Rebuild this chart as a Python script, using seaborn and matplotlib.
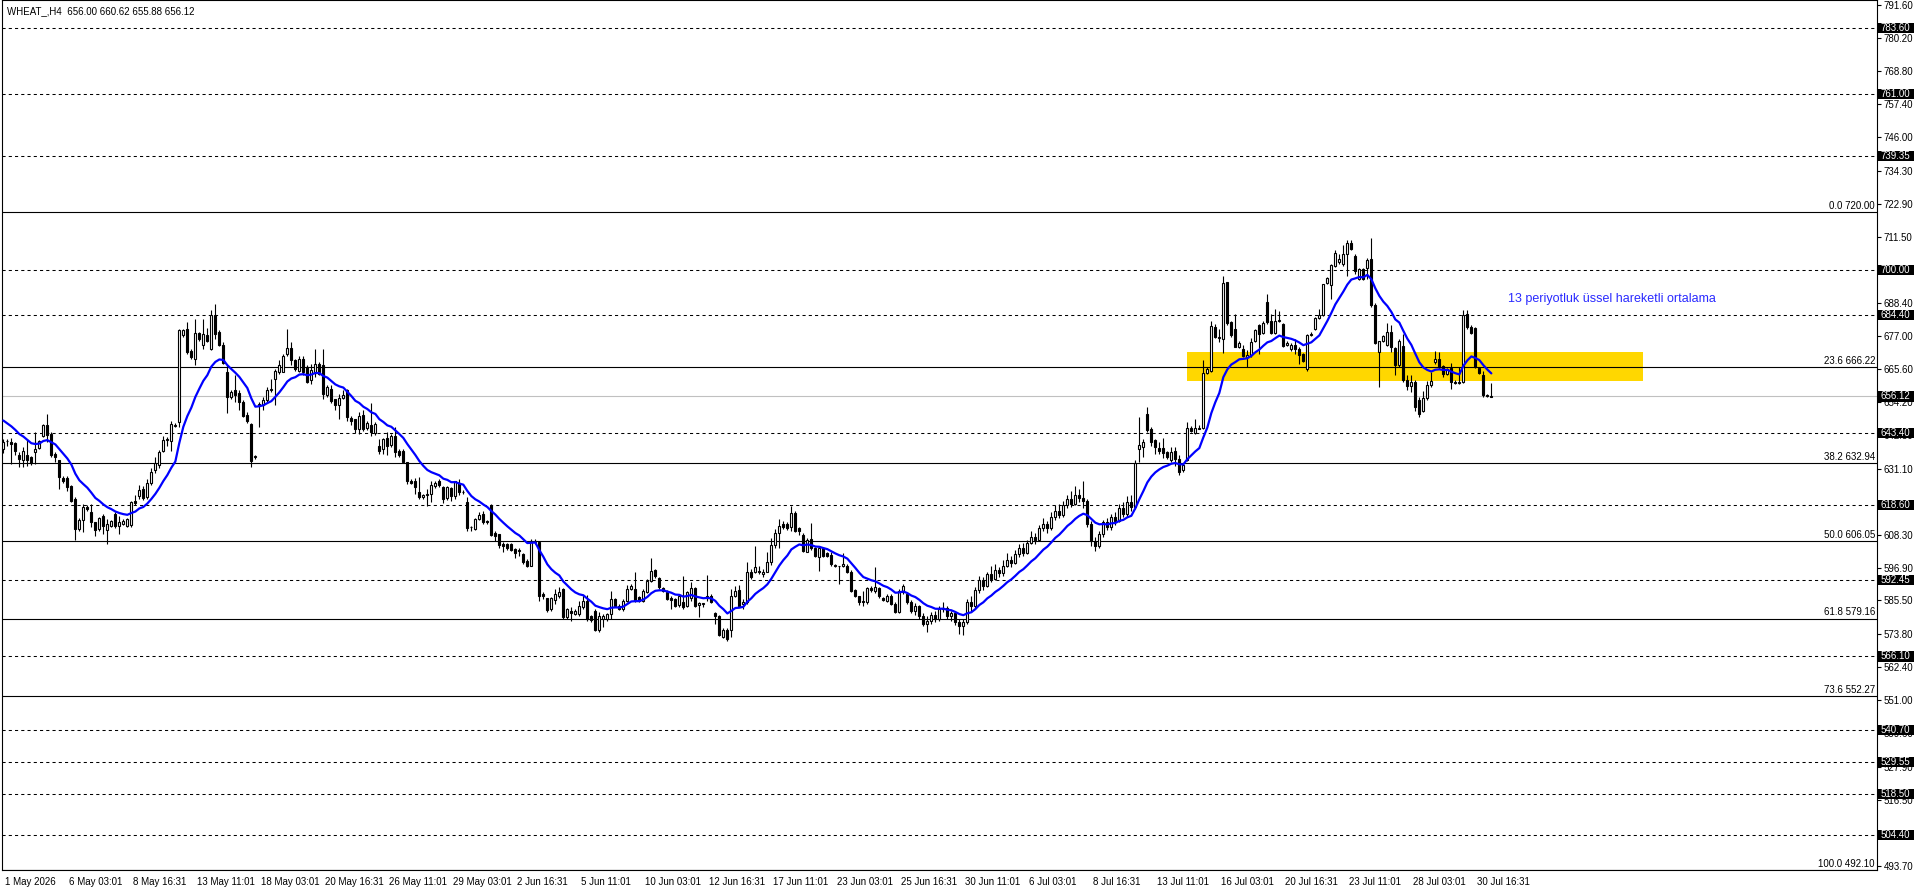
import numpy as np
import pandas as pd
import matplotlib
matplotlib.use("Agg")
from matplotlib import pyplot as plt
from matplotlib.patches import Rectangle
import matplotlib.transforms as mtransforms
import seaborn as sns

# 数据: WHEAT_ H4 K线
header_text = "WHEAT_,H4  656.00 660.62 655.88 656.12"

bar_open = [
    638.0, 640.6, 640.3, 640.1, 635.7, 634.0, 635.7, 635.1, 636.8, 638.2,
    642.6, 646.1, 643.2, 636.3, 634.0, 627.9, 627.8, 625.0, 620.7, 610.2,
    613.5, 618.0, 616.0, 612.6, 610.2, 614.6, 610.0, 611.4, 615.4, 611.4,
    612.0, 611.4, 611.6, 620.1, 621.8, 624.1, 621.2, 626.2, 630.5, 632.5,
    637.4, 641.0, 640.7, 645.9, 647.2, 677.3, 679.6, 671.7, 669.0, 678.1,
    673.8, 677.5, 672.4, 684.5, 678.4, 674.0, 664.6, 655.9, 658.2, 657.4,
    654.2, 649.8, 646.7, 635.0, 653.3, 653.0, 655.0, 658.2, 662.3, 664.6,
    664.6, 670.9, 672.9, 668.6, 665.1, 669.2, 666.3, 661.7, 664.4, 667.5,
    667.1, 656.7, 658.8, 655.1, 653.0, 655.6, 658.3, 648.6, 648.2, 644.9,
    649.6, 645.2, 646.1, 643.5, 639.1, 637.8, 641.7, 639.4, 642.6, 637.4,
    637.4, 633.6, 627.0, 627.0, 623.0, 621.2, 622.0, 622.4, 625.0, 626.7,
    624.7, 620.9, 624.4, 621.6, 626.2, 623.0, 619.7, 610.8, 610.3, 613.7,
    615.4, 613.1, 618.6, 608.9, 608.5, 605.1, 605.1, 605.1, 603.3, 602.7,
    601.6, 599.3, 597.5, 605.6, 605.9, 587.7, 586.2, 582.5, 585.8, 587.1,
    589.4, 579.6, 581.9, 580.8, 580.8, 583.1, 585.4, 580.0, 581.9, 575.4,
    579.0, 579.1, 580.8, 586.0, 583.7, 582.5, 585.4, 589.5, 589.5, 586.6,
    585.4, 588.3, 592.3, 596.0, 593.2, 589.7, 588.5, 586.2, 586.0, 583.9,
    585.1, 583.7, 586.2, 589.7, 583.9, 584.3, 586.2, 587.1, 581.1, 580.2,
    573.0, 575.4, 575.4, 587.1, 589.1, 584.3, 584.8, 595.5, 595.5, 595.8,
    594.7, 595.5, 598.7, 604.7, 608.9, 611.9, 612.0, 610.8, 615.8, 610.5,
    608.2, 602.4, 606.8, 603.6, 600.4, 603.6, 601.9, 601.2, 597.8, 597.3,
    597.3, 597.5, 595.5, 589.2, 587.1, 585.4, 584.8, 589.7, 588.9, 589.7,
    586.2, 585.4, 587.1, 584.3, 581.6, 588.3, 587.7, 584.8, 582.0, 583.5,
    580.0, 577.5, 578.5, 580.5, 579.0, 582.5, 583.0, 580.0, 581.0, 578.0,
    576.5, 578.0, 585.0, 583.5, 589.0, 592.5, 590.5, 594.5, 593.0, 596.0,
    595.0, 597.5, 599.5, 598.5, 601.5, 603.5, 602.0, 605.5, 607.5, 606.5,
    610.5, 612.0, 610.5, 614.5, 616.5, 615.0, 618.5, 620.5, 619.0, 622.0,
    621.0, 620.0, 612.0, 606.0, 604.5, 608.5, 612.5, 611.0, 614.5, 613.0,
    617.5, 615.5, 619.5, 618.0, 638.0, 638.6, 650.1, 644.7, 640.9, 638.2,
    638.2, 636.8, 634.3, 637.1, 634.5, 630.5, 634.3, 645.1, 643.5, 645.0,
    645.1, 664.3, 664.8, 680.2, 676.4, 675.9, 695.8, 681.9, 679.4, 673.2,
    672.7, 669.8, 670.4, 675.2, 681.0, 678.2, 688.8, 682.1, 678.2, 682.4,
    681.3, 674.1, 672.4, 674.1, 672.7, 670.9, 665.5, 677.3, 679.6, 683.3,
    684.4, 695.5, 694.6, 701.3, 702.7, 702.1, 705.6, 709.4, 704.8, 696.9,
    700.2, 700.6, 703.6, 687.9, 671.5, 675.5, 673.8, 678.4, 672.9, 666.9,
    673.6, 661.7, 659.7, 661.1, 655.0, 651.0, 655.5, 660.0, 668.0, 669.2,
    666.6, 664.0, 665.9, 661.0, 660.9, 661.1, 684.8, 680.2, 679.8, 666.0,
    663.6, 656.5, 656.00,
]

bar_high = [
    641.5, 641.5, 641.7, 640.5, 636.8, 638.6, 641.5, 635.5, 643.8, 641.2,
    646.7, 650.1, 643.8, 636.8, 634.0, 628.5, 628.7, 625.5, 621.2, 614.0,
    618.9, 618.5, 618.9, 612.6, 614.5, 615.5, 613.7, 613.5, 616.0, 614.9,
    613.6, 614.2, 620.0, 622.0, 625.5, 625.0, 627.6, 631.5, 635.1, 637.5,
    642.6, 642.0, 647.8, 647.0, 679.6, 679.6, 681.9, 672.7, 683.1, 678.6,
    683.1, 679.8, 686.2, 688.0, 679.0, 675.0, 666.9, 658.2, 663.4, 658.2,
    655.0, 650.9, 647.0, 636.0, 654.2, 655.9, 659.4, 662.3, 665.7, 668.6,
    670.9, 679.4, 675.0, 669.0, 670.0, 670.0, 667.0, 667.5, 672.4, 668.1,
    672.4, 660.0, 660.0, 655.4, 657.1, 658.2, 658.8, 649.5, 648.4, 650.9,
    651.3, 647.6, 653.9, 647.2, 641.5, 641.7, 643.8, 643.2, 645.5, 637.8,
    638.0, 633.6, 627.5, 627.8, 628.2, 622.5, 624.1, 627.0, 626.8, 627.6,
    625.0, 625.2, 624.7, 627.0, 627.6, 623.8, 621.2, 611.4, 614.2, 616.0,
    616.3, 613.5, 618.9, 609.4, 608.5, 605.6, 605.5, 605.5, 603.5, 603.5,
    602.0, 599.7, 606.8, 606.8, 606.2, 588.3, 586.5, 586.7, 589.4, 590.0,
    589.8, 583.0, 583.1, 582.4, 585.4, 587.5, 587.4, 580.3, 582.5, 581.4,
    580.8, 581.3, 588.9, 586.5, 584.2, 586.0, 590.8, 591.2, 595.2, 587.0,
    589.5, 592.8, 600.1, 596.5, 593.7, 590.2, 589.0, 587.1, 586.5, 587.4,
    593.8, 588.8, 592.0, 590.2, 584.8, 584.6, 594.3, 587.6, 581.6, 580.4,
    575.8, 575.8, 589.5, 590.6, 590.8, 586.0, 598.9, 596.4, 604.5, 597.5,
    596.4, 602.4, 607.0, 610.3, 613.7, 613.1, 612.5, 618.3, 616.6, 610.8,
    608.7, 607.0, 612.3, 603.9, 603.9, 604.0, 602.3, 602.4, 598.1, 597.5,
    601.9, 598.0, 596.0, 589.6, 587.1, 588.9, 590.2, 590.6, 597.0, 590.2,
    586.6, 587.6, 587.6, 584.8, 589.5, 591.2, 588.2, 585.5, 584.5, 584.0,
    581.0, 580.0, 581.5, 582.0, 583.5, 585.0, 583.5, 582.0, 581.5, 579.0,
    579.0, 586.0, 587.0, 590.0, 594.0, 593.5, 595.5, 597.5, 598.0, 597.0,
    599.5, 602.0, 601.0, 603.0, 605.0, 605.5, 606.5, 609.5, 609.0, 611.5,
    614.0, 613.0, 616.0, 618.5, 619.0, 620.0, 622.0, 623.5, 625.0, 624.0,
    627.0, 620.5, 613.0, 607.5, 609.5, 613.5, 614.0, 615.5, 616.0, 619.0,
    619.5, 621.5, 622.0, 634.0, 649.0, 641.5, 652.4, 645.5, 641.5, 640.3,
    641.7, 637.3, 638.6, 638.6, 635.7, 633.0, 647.2, 645.9, 648.2, 646.3,
    668.6, 666.2, 682.1, 681.3, 679.6, 697.9, 695.8, 682.1, 684.8, 675.2,
    674.0, 672.1, 676.4, 679.6, 681.3, 682.2, 691.7, 684.8, 686.3, 685.6,
    681.7, 675.2, 674.5, 676.1, 673.2, 671.3, 677.9, 678.4, 683.6, 686.5,
    695.2, 697.5, 702.1, 706.8, 705.3, 708.5, 710.2, 710.2, 705.3, 700.6,
    700.6, 703.9, 711.0, 688.6, 675.5, 677.5, 681.7, 680.7, 673.2, 676.1,
    677.9, 663.4, 663.4, 661.7, 656.0, 657.9, 661.5, 664.6, 671.7, 671.5,
    667.1, 666.0, 667.8, 661.7, 666.3, 685.9, 685.9, 681.0, 680.2, 666.3,
    664.8, 657.1, 660.62,
]

bar_low = [
    636.5, 639.1, 632.8, 636.0, 631.6, 631.6, 632.2, 632.5, 632.8, 637.8,
    642.0, 640.3, 635.1, 633.4, 624.1, 626.0, 623.5, 619.5, 606.6, 609.5,
    609.1, 616.5, 610.8, 607.9, 609.5, 608.5, 605.0, 610.8, 610.5, 608.5,
    611.5, 610.8, 611.0, 618.5, 620.7, 620.2, 620.7, 625.5, 629.5, 631.5,
    636.8, 639.1, 637.2, 645.5, 645.5, 676.8, 670.9, 669.2, 667.1, 675.5,
    672.7, 675.0, 672.1, 676.1, 673.5, 667.5, 650.4, 655.3, 654.2, 651.6,
    649.0, 647.0, 631.6, 634.5, 645.5, 651.3, 654.2, 657.6, 653.0, 664.0,
    664.6, 670.3, 666.9, 665.0, 664.5, 663.4, 660.8, 660.5, 662.9, 663.4,
    655.3, 656.0, 654.0, 651.6, 648.4, 655.3, 647.8, 646.1, 643.5, 643.2,
    644.0, 644.5, 642.6, 642.8, 636.3, 636.3, 635.7, 638.8, 635.1, 635.1,
    633.0, 625.9, 625.7, 622.4, 620.7, 620.7, 618.3, 619.5, 624.5, 624.7,
    619.3, 620.3, 620.1, 620.7, 622.0, 622.4, 609.7, 609.7, 609.8, 613.5,
    612.0, 612.0, 607.7, 606.2, 603.6, 602.2, 603.0, 602.5, 600.1, 601.0,
    598.2, 597.0, 597.3, 605.0, 585.4, 586.0, 581.4, 582.0, 584.2, 586.5,
    579.0, 579.0, 578.5, 580.3, 580.2, 582.6, 578.5, 578.2, 575.0, 574.7,
    576.2, 578.5, 579.0, 583.2, 582.2, 582.0, 584.8, 589.0, 584.8, 585.0,
    585.0, 588.0, 592.0, 593.3, 589.5, 588.4, 585.5, 582.5, 583.2, 583.4,
    582.5, 583.2, 585.4, 583.2, 579.6, 583.1, 585.4, 584.6, 577.3, 573.3,
    572.6, 571.6, 573.0, 586.6, 583.2, 582.5, 584.3, 592.9, 595.0, 594.7,
    593.5, 595.2, 597.8, 603.6, 603.6, 610.3, 610.0, 609.7, 609.1, 608.0,
    602.2, 602.2, 603.1, 600.4, 595.8, 600.5, 600.5, 597.5, 597.0, 591.2,
    597.0, 595.0, 588.4, 586.6, 583.9, 583.7, 584.3, 588.3, 588.1, 586.4,
    585.4, 584.9, 583.8, 581.1, 581.1, 587.8, 584.3, 581.0, 580.5, 579.0,
    576.5, 574.5, 577.5, 578.0, 578.5, 581.5, 579.0, 578.5, 577.0, 574.0,
    573.5, 577.5, 582.0, 583.0, 588.0, 589.0, 590.0, 592.0, 592.5, 593.5,
    594.0, 597.0, 597.0, 598.0, 600.5, 601.0, 601.5, 605.0, 605.0, 606.0,
    609.5, 609.0, 610.0, 613.5, 614.0, 614.5, 617.5, 618.0, 618.5, 619.5,
    617.5, 611.0, 604.5, 602.5, 603.5, 607.5, 610.0, 610.0, 611.5, 612.5,
    614.5, 614.5, 616.5, 617.0, 633.4, 635.1, 643.8, 638.9, 636.3, 636.3,
    634.8, 634.6, 633.4, 632.2, 628.8, 630.0, 633.9, 643.8, 643.2, 644.9,
    644.9, 663.8, 664.6, 676.4, 675.0, 671.3, 680.8, 676.7, 673.2, 672.9,
    669.8, 666.3, 669.8, 675.0, 670.9, 677.7, 681.3, 677.9, 677.9, 681.9,
    673.2, 673.6, 672.0, 670.9, 667.5, 667.9, 665.1, 676.9, 679.0, 683.1,
    684.0, 694.9, 689.8, 701.0, 702.1, 701.3, 697.9, 706.8, 698.7, 696.4,
    696.4, 696.9, 687.1, 674.4, 659.4, 675.0, 673.6, 671.5, 663.4, 666.3,
    661.1, 658.2, 657.6, 651.2, 649.0, 650.7, 654.8, 659.4, 667.5, 665.7,
    662.8, 663.5, 658.6, 660.5, 660.5, 660.9, 679.6, 677.9, 666.0, 663.8,
    655.9, 655.9, 655.88,
]

bar_close = [
    640.3, 640.8, 639.7, 637.1, 634.5, 637.1, 634.0, 633.1, 638.0, 640.8,
    646.1, 642.8, 635.7, 635.1, 628.2, 626.8, 624.7, 620.1, 610.2, 613.5,
    617.8, 617.0, 612.6, 610.0, 613.9, 611.4, 612.0, 613.1, 611.4, 612.6,
    613.1, 613.7, 619.5, 619.3, 623.9, 620.9, 626.2, 630.0, 633.0, 637.0,
    641.1, 641.3, 646.7, 646.4, 679.0, 679.0, 671.5, 669.8, 678.1, 676.1,
    677.9, 675.2, 684.2, 677.9, 674.0, 667.8, 656.1, 657.6, 656.7, 654.2,
    649.5, 647.5, 633.9, 635.4, 653.6, 655.0, 658.4, 658.6, 664.8, 666.9,
    670.3, 673.0, 668.6, 665.5, 669.2, 664.6, 661.3, 665.2, 667.5, 664.0,
    657.1, 659.4, 654.4, 653.2, 655.6, 656.7, 649.0, 647.5, 644.7, 649.2,
    644.9, 647.0, 643.8, 646.7, 637.4, 641.5, 639.1, 642.6, 636.8, 635.7,
    633.6, 627.0, 626.2, 624.7, 621.2, 622.0, 622.2, 625.3, 626.2, 625.5,
    620.7, 624.7, 621.6, 626.7, 623.0, 623.2, 610.5, 611.0, 613.7, 615.1,
    612.6, 612.6, 608.2, 607.9, 604.7, 604.5, 603.6, 603.1, 601.9, 602.9,
    598.7, 597.5, 606.2, 606.0, 587.1, 586.9, 582.3, 586.2, 587.7, 588.5,
    579.6, 582.5, 581.1, 581.9, 583.7, 585.4, 579.0, 578.8, 575.4, 580.2,
    580.2, 580.8, 586.0, 583.7, 582.7, 585.4, 589.5, 590.6, 585.8, 585.4,
    588.9, 592.3, 595.8, 593.8, 590.0, 588.9, 586.0, 585.8, 583.7, 586.9,
    583.1, 588.3, 589.7, 583.7, 584.6, 584.5, 587.1, 585.1, 580.2, 573.6,
    575.4, 572.1, 587.1, 588.9, 583.7, 585.1, 595.5, 593.5, 597.0, 595.2,
    595.5, 598.7, 604.7, 608.9, 611.4, 610.8, 610.5, 615.8, 609.7, 609.7,
    602.7, 606.6, 603.6, 601.0, 603.6, 601.0, 601.0, 598.1, 597.3, 597.4,
    598.1, 595.5, 588.9, 587.1, 584.8, 584.8, 589.7, 589.2, 590.0, 586.9,
    585.8, 587.1, 584.3, 581.6, 588.9, 590.6, 584.8, 582.0, 583.5, 580.0,
    577.5, 578.5, 580.5, 579.0, 582.5, 583.0, 580.0, 581.0, 578.0, 576.5,
    578.0, 585.0, 583.5, 589.0, 592.5, 590.5, 594.5, 593.0, 596.0, 595.0,
    597.5, 599.5, 598.5, 601.5, 603.5, 602.0, 605.5, 607.5, 606.5, 610.5,
    612.0, 610.5, 614.5, 616.5, 615.0, 618.5, 620.5, 619.0, 622.0, 621.0,
    620.0, 612.0, 606.0, 604.5, 608.5, 612.5, 611.0, 614.5, 613.0, 617.5,
    615.5, 619.5, 618.0, 633.1, 639.2, 640.3, 644.4, 640.5, 638.6, 637.1,
    636.6, 635.1, 636.8, 634.5, 630.1, 632.4, 645.1, 644.0, 645.1, 645.2,
    664.2, 665.7, 680.5, 676.7, 676.6, 695.5, 681.7, 677.3, 673.2, 674.7,
    670.1, 670.6, 675.0, 679.0, 677.9, 681.7, 681.9, 678.2, 682.1, 682.6,
    673.6, 674.7, 674.1, 672.4, 670.4, 668.3, 677.3, 677.9, 683.3, 684.4,
    694.9, 697.2, 701.6, 705.9, 703.6, 705.6, 709.4, 707.1, 699.5, 700.2,
    696.9, 703.3, 687.7, 674.7, 675.2, 677.0, 678.4, 673.2, 667.1, 675.2,
    661.7, 659.9, 661.1, 652.5, 650.2, 655.5, 660.0, 661.5, 669.2, 666.3,
    664.0, 665.5, 661.1, 660.9, 661.3, 684.2, 680.2, 678.2, 666.3, 664.3,
    656.5, 656.3, 656.12,
]

EMA_PERIOD = 13
EMA_START = 647.8  # 图上第一根K线处的均线值

# 每16根K线一个时间标签
x_tick_labels = [
    "1 May 2026", "6 May 03:01", "8 May 16:31", "13 May 11:01", "18 May 03:01",
    "20 May 16:31", "26 May 11:01", "29 May 03:01", "2 Jun 16:31", "5 Jun 11:01",
    "10 Jun 03:01", "12 Jun 16:31", "17 Jun 11:01", "23 Jun 03:01", "25 Jun 16:31",
    "30 Jun 11:01", "6 Jul 03:01", "8 Jul 16:31", "13 Jul 11:01", "16 Jul 03:01",
    "20 Jul 16:31", "23 Jul 11:01", "28 Jul 03:01", "30 Jul 16:31",
]
BARS_PER_LABEL = 16

y_tick_values = [791.60, 780.20, 768.80, 757.40, 746.00, 734.30, 722.90, 711.50,
                 688.40, 677.00, 665.60, 654.20, 642.80, 631.10, 608.30, 596.90,
                 585.50, 573.80, 562.40, 551.00, 539.60, 527.90, 516.50, 493.70]

# 水平支撑/阻力 (虚线)
dashed_levels = [783.60, 761.00, 739.35, 700.00, 684.40, 643.40, 618.60,
                 592.45, 566.10, 540.70, 529.55, 518.50, 504.40]
current_price = 656.12

# 斐波那契回撤
fib_levels = [720.00, 666.22, 632.94, 606.05, 579.16, 552.27, 492.10]
fib_names = ["0.0", "23.6", "38.2", "50.0", "61.8", "73.6", "100.0"]

zone_low, zone_high = 661.6, 671.6
ema_note = "13 periyotluk üssel hareketli ortalama"

# 样式
sns.set_style("white")
plt.rcParams['font.family'] = ['Liberation Sans', 'DejaVu Sans']
plt.rcParams['axes.unicode_minus'] = False

W, H = 1916, 888
fig = plt.figure(figsize=(W / 100, H / 100), dpi=100)
ax_left, ax_right, ax_top, ax_bottom = 1.7, 1877.0, 0.0, 870.2
ax = fig.add_axes([ax_left / W, 1 - ax_bottom / H, (ax_right - ax_left) / W, (ax_bottom - ax_top) / H])
ax_w_px = ax_right - ax_left

df = pd.DataFrame({"open": bar_open, "high": bar_high, "low": bar_low, "close": bar_close})
df["bar"] = np.arange(len(df))
ema_input = df["close"].copy()
ema_input.iloc[0] = EMA_START
df["ema"] = ema_input.ewm(span=EMA_PERIOD, adjust=False).mean()

# 区域
ax.add_patch(Rectangle((295.9, zone_low), 409.9 - 295.9, zone_high - zone_low,
                       facecolor="#FFD700", edgecolor="none", zorder=1))

# 水平线
for lvl in dashed_levels:
    ax.axhline(lvl, color="black", lw=0.75, ls=(0, (3, 3)), zorder=2)
for lvl in fib_levels:
    ax.axhline(lvl, color="black", lw=0.8, zorder=2)
ax.axhline(current_price, color="#C0C0C0", lw=0.8, zorder=2)

# K线
up = df["close"] >= df["open"]
ax.vlines(df["bar"], df["low"], df["high"], color="black", lw=0.8, zorder=3)
ax.bar(df.loc[up, "bar"], (df["close"] - df["open"])[up], bottom=df.loc[up, "open"],
       width=0.55, facecolor="white", edgecolor="black", linewidth=0.8, zorder=4)
ax.bar(df.loc[~up, "bar"], (df["open"] - df["close"])[~up], bottom=df.loc[~up, "close"],
       width=0.55, facecolor="black", edgecolor="black", linewidth=0.8, zorder=4)

# 均线
sns.lineplot(x=df["bar"], y=df["ema"], ax=ax, color="#0000FF", linewidth=1.6, zorder=5)

ax.text(376.2, 689.9, ema_note, color="#2a2aff", fontsize=9, va="center", ha="left", zorder=6)

# 坐标轴
ax.set_xlim(-0.41, (ax_right - 3.33) / 4)
ax.set_ylim(492.1, 793.4)
ax.set_xlabel("")
ax.set_ylabel("")

ax.set_xticks(np.arange(len(x_tick_labels)) * BARS_PER_LABEL)
ax.set_xticklabels(x_tick_labels, fontsize=7, ha="left")
ax.tick_params(axis="x", direction="out", length=4, width=0.8, pad=1, colors="black")
offset = mtransforms.ScaledTranslation(2 / 100, 0, fig.dpi_scale_trans)
for lbl in ax.get_xticklabels():
    lbl.set_transform(lbl.get_transform() + offset)

ax.yaxis.tick_right()
ax.set_yticks(y_tick_values)
ax.set_yticklabels([f"{v:.2f}" for v in y_tick_values], fontsize=7)
ax.tick_params(axis="y", direction="out", length=3, width=0.8, pad=2, colors="black")

for s in ax.spines.values():
    s.set_color("black")
    s.set_linewidth(0.8)

yt = ax.get_yaxis_transform()
# 斐波那契标签
for lvl, name in zip(fib_levels, fib_names):
    ax.text(1 - 2 / ax_w_px, lvl + 0.5, f"{name} {lvl:.2f}", transform=yt,
            ha="right", va="bottom", fontsize=7, color="black", zorder=6)

# 右侧价格框
box_w = 36 / ax_w_px
for lvl in dashed_levels + [current_price]:
    ax.add_patch(Rectangle((1 + 0.5 / ax_w_px, lvl - 1.75), box_w, 3.5, transform=yt,
                           facecolor="black", edgecolor="none", clip_on=False, zorder=10))
    ax.text(1 + 0.5 / ax_w_px + box_w / 2, lvl, f"{lvl:.2f}", transform=yt, ha="center",
            va="center", fontsize=7, color="white", clip_on=False, zorder=11)

fig.text(7 / W, 1 - 11 / H, header_text, fontsize=7, va="center", ha="left", color="black")

fig.savefig("out.png", dpi=100)
